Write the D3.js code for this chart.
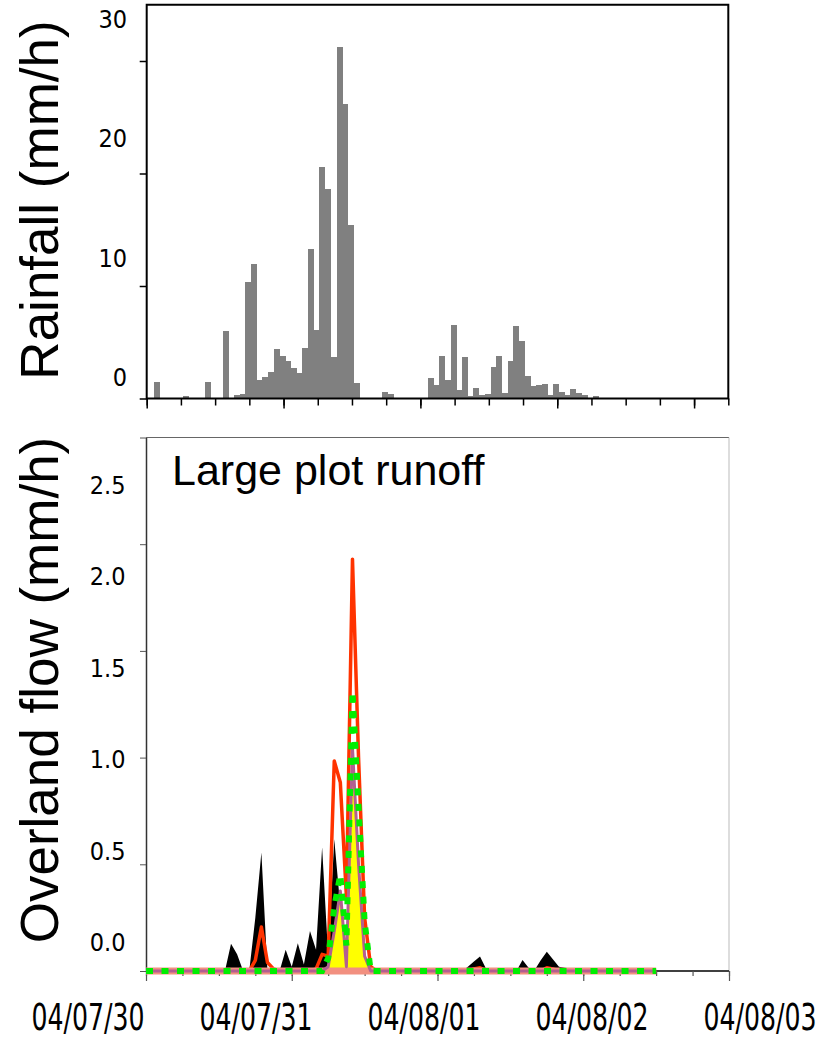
<!DOCTYPE html>
<html>
<head>
<meta charset="utf-8">
<script src="https://cdn.jsdelivr.net/npm/d3@7"></script>
<style>
  body { margin: 0; background: #fff; }
  svg text { font-family: "DejaVu Sans Condensed", "DejaVu Sans", sans-serif; font-stretch: condensed; fill: #000; }
  svg text.title { font-family: "Liberation Sans", Arial, sans-serif; font-stretch: normal; }
</style>
</head>
<body>
<div id="chart"></div>
<script>
// ---- data ----
const startDay = new Date(2004, 6, 30);       // 04/07/30 00:00
const rainOffsetHours = 0.3;                  // hourly bars start a little after the hour

// hourly rainfall (mm/h)
const rainfall = [
  0, 1.45, 0, 0, 0, 0, 0.2, 0, 0, 0,
  1.45, 0, 0, 6.0, 0, 0.3, 0.4, 10.35, 11.95, 1.63,
  1.93, 2.37, 4.39, 3.77, 3.32, 2.7, 2.25, 4.48, 13.29, 6.08,
  20.58, 18.62, 3.68, 31.26, 26.19, 15.42, 1.36, 0, 0, 0,
  0, 0.56, 0.39, 0, 0, 0, 0, 0, 0, 1.82,
  1.2, 3.8, 1.66, 6.55, 0.77, 3.7, 0.24, 0.95, 0.33, 0.42,
  2.82, 3.8, 0.5, 3.35, 6.46, 5.13, 2.0, 1.13, 1.22, 1.3,
  0.33, 1.3, 0.6, 0.33, 0.86, 0.5, 0.33, 0.06, 0.24
];

// hourly overland flow (mm/h), hour 0 = 04/07/30 00:00
const observed = [
  0, 0, 0, 0, 0, 0, 0, 0, 0, 0,
  0, 0, 0, 0, 0.128, 0.078, 0, 0, 0.25, 0.555,
  0, 0, 0, 0.1, 0.02, 0.13, 0.03, 0.187, 0.1, 0.58,
  0.07, 0.617, 0.3, 0, 0.3, 0.1, 0, 0, 0, 0,
  0, 0, 0, 0, 0, 0, 0, 0, 0, 0,
  0, 0, 0, 0.02, 0.045, 0.068, 0.01, 0, 0, 0,
  0, 0, 0.052, 0.015, 0.005, 0.05, 0.09, 0.055, 0.02, 0.015,
  0.012, 0.01, 0.01, 0.008, 0.006, 0.004, 0, 0, 0, 0,
  0, 0, 0, 0, 0
];
const simRed = [
  0, 0, 0, 0, 0, 0, 0, 0, 0, 0,
  0, 0, 0, 0, 0, 0, 0, 0, 0.05, 0.206,
  0.04, 0.01, 0, 0, 0, 0, 0, 0, 0.01, 0.078,
  0.07, 0.984, 0.883, 0.35, 1.93, 1.0, 0.25, 0.02, 0, 0,
  0, 0, 0, 0, 0, 0, 0, 0, 0, 0,
  0, 0, 0, 0, 0.01, 0.015, 0, 0, 0, 0,
  0, 0, 0, 0, 0, 0, 0.015, 0.01, 0, 0,
  0, 0, 0, 0, 0, 0, 0, 0, 0, 0,
  0, 0, 0, 0, 0
];
const simPink = [
  0, 0, 0, 0, 0, 0, 0, 0, 0, 0,
  0, 0, 0, 0, 0, 0, 0, 0, 0, 0,
  0, 0, 0, 0, 0, 0, 0, 0, 0, 0,
  0, 0, 0, 0, 0, 0, 0, 0, 0, 0,
  0, 0, 0, 0, 0, 0, 0, 0, 0, 0,
  0, 0, 0, 0, 0, 0, 0, 0, 0, 0,
  0, 0, 0, 0, 0, 0, 0, 0, 0, 0,
  0, 0, 0, 0, 0, 0, 0, 0, 0, 0,
  0, 0, 0, 0, 0
];
const simPurple = [
  0, 0, 0, 0, 0, 0, 0, 0, 0, 0,
  0, 0, 0, 0, 0, 0, 0, 0, 0, 0,
  0, 0, 0, 0, 0, 0, 0, 0, 0, 0,
  0.02, 0.186, 0.375, 0.02, 1.047, 0.5, 0.07, 0, 0, 0,
  0, 0, 0, 0, 0, 0, 0, 0, 0, 0,
  0, 0, 0, 0, 0, 0, 0, 0, 0, 0,
  0, 0, 0, 0, 0, 0, 0, 0, 0, 0,
  0, 0, 0, 0, 0, 0, 0, 0, 0, 0,
  0, 0, 0, 0, 0
];
const simGreen = [
  0, 0, 0, 0, 0, 0, 0, 0, 0, 0,
  0, 0, 0, 0, 0, 0, 0, 0, 0, 0,
  0, 0, 0, 0, 0, 0, 0, 0, 0, 0,
  0.06, 0.3, 0.453, 0.12, 1.31, 0.77, 0.23, 0, 0, 0,
  0, 0, 0, 0, 0, 0, 0, 0, 0, 0,
  0, 0, 0, 0, 0, 0, 0, 0, 0, 0,
  0, 0, 0, 0, 0, 0, 0, 0, 0, 0,
  0, 0, 0, 0, 0, 0, 0, 0, 0, 0,
  0, 0, 0, 0, 0
];

const rainTicks = [0, 10, 20, 30];
const flowTicks = [0, 0.5, 1.0, 1.5, 2.0, 2.5];
const dateLabels = [0, 1, 2, 3, 4].map(d => d3.timeDay.offset(startDay, d));

const hourAt = h => d3.timeMinute.offset(startDay, Math.round(h * 60));

// ---- svg ----
const svg = d3.select("#chart").append("svg")
  .attr("width", 836).attr("height", 1040);

// ================= TOP: rainfall =================
const xTop = d3.scaleTime().domain([startDay, hourAt(102)]).range([146.7, 728.3]);
const yTop = d3.scaleLinear().domain([0, 35]).range([398.5, 4.75]);
const yTopLabel = d3.scaleLinear().domain([0, 30]).range([377, 19]);

const topG = svg.append("g");

const barW = xTop(hourAt(1)) - xTop(startDay);
topG.selectAll("rect.rain")
  .data(rainfall)
  .enter().append("rect")
  .attr("class", "rain")
  .attr("x", (d, i) => xTop(hourAt(rainOffsetHours + i)))
  .attr("y", d => yTop(d))
  .attr("width", barW + 0.3)
  .attr("height", d => yTop(0) - yTop(d))
  .attr("fill", "#808080")
  .attr("shape-rendering", "crispEdges");

// frame
topG.append("rect")
  .attr("x", xTop.range()[0]).attr("y", yTop.range()[1])
  .attr("width", xTop.range()[1] - xTop.range()[0])
  .attr("height", yTop.range()[0] - yTop.range()[1])
  .attr("fill", "none").attr("stroke", "#000").attr("stroke-width", 2);

// left ticks
const topYAxis = topG.append("g")
  .attr("transform", `translate(${xTop.range()[0]},0)`)
  .call(d3.axisLeft(yTop).tickValues(rainTicks).tickSize(7).tickFormat(""));
topYAxis.select(".domain").remove();
topYAxis.selectAll("line").attr("stroke-width", 1.5);

// bottom ticks (minor 6 h, major 1 day)
const topXMinor = topG.append("g")
  .attr("transform", `translate(0,${yTop(0)})`)
  .call(d3.axisBottom(xTop).ticks(d3.timeHour.every(6)).tickSize(7).tickFormat(""));
const topXMajor = topG.append("g")
  .attr("transform", `translate(0,${yTop(0)})`)
  .call(d3.axisBottom(xTop).ticks(d3.timeDay.every(1)).tickSize(10).tickFormat(""));
[topXMinor, topXMajor].forEach(g => {
  g.select(".domain").remove();
  g.selectAll("line").attr("stroke-width", 1.5);
});

topG.selectAll("text.ylab")
  .data(rainTicks)
  .enter().append("text")
  .attr("class", "ylab")
  .attr("x", 127)
  .attr("y", d => yTopLabel(d))
  .attr("dy", "0.36em")
  .attr("text-anchor", "end")
  .style("font-size", "25px")
  .text(d => d);

topG.append("text")
  .attr("class", "title")
  .attr("transform", "translate(58,200) rotate(-90)")
  .attr("text-anchor", "middle")
  .style("font-size", "53px")
  .text("Rainfall (mm/h)");

// ================= BOTTOM: overland flow =================
const xBot = d3.scaleTime().domain([startDay, d3.timeDay.offset(startDay, 4)]).range([146, 729]);
const yBot = d3.scaleLinear().domain([0, 2.5]).range([971, 437.5]);
const yBotLabel = d3.scaleLinear().domain([0, 2.5]).range([942, 485]);
const xBotLabel = d3.scaleTime().domain([startDay, d3.timeDay.offset(startDay, 4)]).range([88, 760]);

const botG = svg.append("g");

// frame lines
botG.append("line")
  .attr("x1", xBot.range()[0]).attr("x2", xBot.range()[1])
  .attr("y1", yBot(2.5)).attr("y2", yBot(2.5))
  .attr("stroke", "#666").attr("stroke-width", 1);
botG.append("line")
  .attr("x1", xBot.range()[1]).attr("x2", xBot.range()[1])
  .attr("y1", yBot(2.5)).attr("y2", yBot(0))
  .attr("stroke", "#bbb").attr("stroke-width", 1);
botG.append("line")
  .attr("x1", xBot.range()[0]).attr("x2", xBot.range()[1])
  .attr("y1", yBot(0)).attr("y2", yBot(0))
  .attr("stroke", "#000").attr("stroke-width", 1.5);

const botYAxis = botG.append("g")
  .attr("transform", `translate(${xBot.range()[0]},0)`)
  .call(d3.axisLeft(yBot).tickValues(flowTicks).tickSize(6).tickSizeOuter(0).tickFormat(""));
botYAxis.select(".domain").attr("stroke", "#333").attr("stroke-width", 1.5);
botYAxis.selectAll("line").attr("stroke", "#555");

const botXMinor = botG.append("g")
  .attr("transform", `translate(0,${yBot(0)})`)
  .call(d3.axisBottom(xBot).ticks(d3.timeHour.every(6)).tickSize(5).tickFormat(""));
const botXMajor = botG.append("g")
  .attr("transform", `translate(0,${yBot(0)})`)
  .call(d3.axisBottom(xBot).ticks(d3.timeDay.every(1)).tickSize(10).tickFormat(""));
[botXMinor, botXMajor].forEach(g => {
  g.select(".domain").remove();
  g.selectAll("line").attr("stroke", "#555").attr("stroke-width", 1.2);
});

const px = i => xBot(hourAt(i));

const area = series => d3.area()
  .x((d, i) => px(i)).y0(yBot(0)).y1(d => yBot(d))(series);
const line = series => d3.line()
  .x((d, i) => px(i)).y(d => yBot(d))(series);

botG.append("path").attr("d", area(observed)).attr("fill", "#000");
botG.append("path").attr("d", line(simRed))
  .attr("fill", "none").attr("stroke", "#ff3300").attr("stroke-width", 3.5)
  .attr("stroke-linejoin", "round");
botG.append("path").attr("d", area(simPurple)).attr("fill", "#ffff00");
botG.append("path").attr("d", line(simPink))
  .attr("fill", "none").attr("stroke", "#f29080").attr("stroke-width", 7);
botG.append("path").attr("d", line(simPurple))
  .attr("fill", "none").attr("stroke", "#b25f91").attr("stroke-width", 3)
  .attr("stroke-linejoin", "round");
botG.append("path").attr("d", line(simGreen))
  .attr("fill", "none").attr("stroke", "#00ee00").attr("stroke-width", 6)
  .attr("stroke-dasharray", "7,8.5");

botG.selectAll("text.ylab")
  .data(flowTicks)
  .enter().append("text")
  .attr("class", "ylab")
  .attr("x", 125.5)
  .attr("y", d => yBotLabel(d))
  .attr("dy", "0.36em")
  .attr("text-anchor", "end")
  .style("font-size", "25px")
  .text(d3.format(".1f"));

botG.selectAll("text.xlab")
  .data(dateLabels)
  .enter().append("text")
  .attr("class", "xlab")
  .attr("transform", d => `translate(${xBotLabel(d)},1030) scale(1,1.3)`)
  .attr("text-anchor", "middle")
  .style("font-size", "28px")
  .text(d3.timeFormat("%y/%m/%d"));

botG.append("text")
  .attr("class", "title")
  .attr("transform", "translate(58,690) rotate(-90)")
  .attr("text-anchor", "middle")
  .style("font-size", "53px")
  .text("Overland flow (mm/h)");

botG.append("text")
  .attr("class", "title")
  .attr("x", 172).attr("y", 485)
  .style("font-size", "43px")
  .text("Large plot runoff");
</script>
</body>
</html>
